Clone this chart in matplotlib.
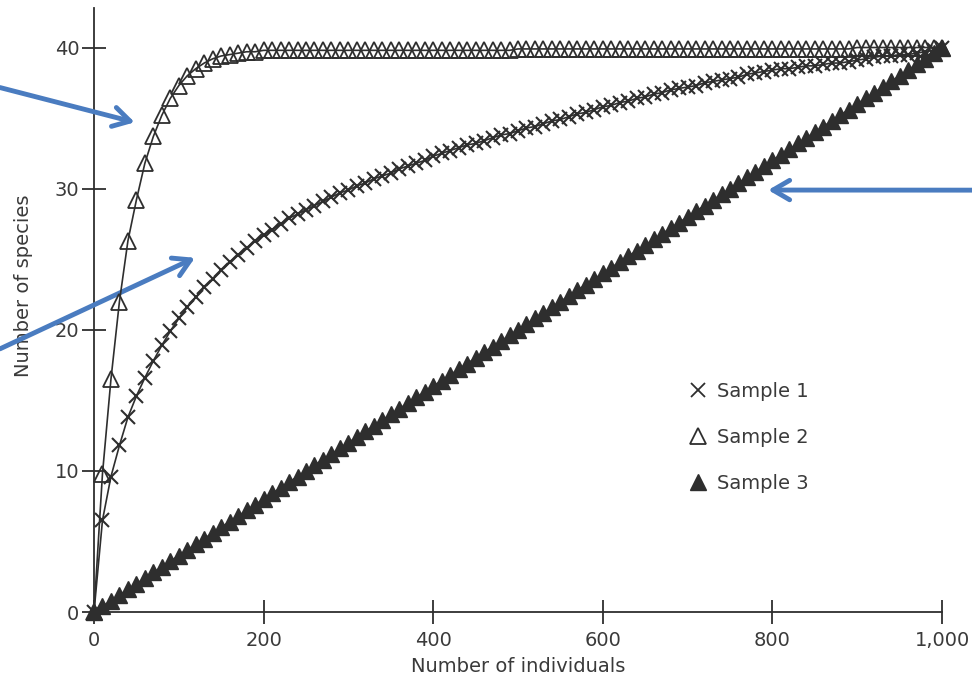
import matplotlib
matplotlib.use("Agg")
import matplotlib.pyplot as plt
from matplotlib.lines import Line2D

# number of individuals sampled (every 10)
individuals = list(range(0, 1001, 10))

sample1 = [0, 6.5, 9.6, 11.8, 13.8, 15.3, 16.6, 17.8, 18.9, 19.9,
           20.8, 21.6, 22.3, 23.0, 23.6, 24.2, 24.8, 25.3, 25.8, 26.3,
           26.7, 27.1, 27.5, 27.9, 28.2, 28.5, 28.8, 29.1, 29.4, 29.7,
           29.9, 30.2, 30.4, 30.7, 30.9, 31.1, 31.4, 31.6, 31.8, 32.0,
           32.3, 32.5, 32.7, 32.9, 33.1, 33.2, 33.4, 33.6, 33.8, 33.9,
           34.1, 34.3, 34.4, 34.6, 34.8, 34.9, 35.1, 35.3, 35.4, 35.6,
           35.8, 35.9, 36.1, 36.2, 36.4, 36.5, 36.7, 36.8, 37.0, 37.1,
           37.2, 37.3, 37.5, 37.6, 37.7, 37.8, 37.9, 38.1, 38.2, 38.3,
           38.4, 38.5, 38.5, 38.6, 38.7, 38.7, 38.8, 38.9, 38.9, 39.0,
           39.1, 39.2, 39.3, 39.4, 39.4, 39.5, 39.5, 39.6, 39.7, 39.8,
           40.0]

sample2 = [0, 9.8, 16.5, 22.0, 26.3, 29.2, 31.8, 33.7, 35.2, 36.4,
           37.3, 38.0, 38.5, 38.9, 39.2, 39.4, 39.5, 39.6, 39.7, 39.7,
           39.8, 39.8, 39.8, 39.8, 39.8, 39.8, 39.8, 39.8, 39.8, 39.8,
           39.8, 39.8, 39.8, 39.8, 39.8, 39.8, 39.8, 39.8, 39.8, 39.8,
           39.8, 39.8, 39.8, 39.8, 39.8, 39.8, 39.8, 39.8, 39.8, 39.8,
           39.9, 39.9, 39.9, 39.9, 39.9, 39.9, 39.9, 39.9, 39.9, 39.9,
           39.9, 39.9, 39.9, 39.9, 39.9, 39.9, 39.9, 39.9, 39.9, 39.9,
           39.9, 39.9, 39.9, 39.9, 39.9, 39.9, 39.9, 39.9, 39.9, 39.9,
           39.9, 39.9, 39.9, 39.9, 39.9, 39.9, 39.9, 39.9, 39.9, 39.9,
           40.0, 40.0, 40.0, 40.0, 40.0, 40.0, 40.0, 40.0, 40.0, 40.0,
           40.0]

sample3 = [0, 0.4, 0.8, 1.2, 1.6, 2.0, 2.4, 2.8, 3.2, 3.6,
           4.0, 4.4, 4.8, 5.2, 5.6, 6.0, 6.4, 6.8, 7.2, 7.6,
           8.0, 8.4, 8.8, 9.2, 9.6, 10.0, 10.4, 10.8, 11.2, 11.6,
           12.0, 12.4, 12.8, 13.2, 13.6, 14.0, 14.4, 14.8, 15.2, 15.6,
           16.0, 16.4, 16.8, 17.2, 17.6, 18.0, 18.4, 18.8, 19.2, 19.6,
           20.0, 20.4, 20.8, 21.2, 21.6, 22.0, 22.4, 22.8, 23.2, 23.6,
           24.0, 24.4, 24.8, 25.2, 25.6, 26.0, 26.4, 26.8, 27.2, 27.6,
           28.0, 28.4, 28.8, 29.2, 29.6, 30.0, 30.4, 30.8, 31.2, 31.6,
           32.0, 32.4, 32.8, 33.2, 33.6, 34.0, 34.4, 34.8, 35.2, 35.6,
           36.0, 36.4, 36.8, 37.2, 37.6, 38.0, 38.4, 38.8, 39.2, 39.6,
           40.0]

x_ticks = [0, 200, 400, 600, 800, 1000]
x_ticklabels = ["0", "200", "400", "600", "800", "1,000"]
y_ticks = [0, 10, 20, 30, 40]
labels = ["Sample 1", "Sample 2", "Sample 3"]

ink = "#2e2e2e"
txt = "#3a3a3a"
blue = "#4a7cc0"

plt.rcParams["font.family"] = ["DejaVu Sans"]

fig = plt.figure(figsize=(9.72, 6.84), dpi=100)
ax = fig.add_axes([94 / 972, 72 / 684, 848 / 972, 604 / 684])

ax.plot(individuals, sample3, color=ink, lw=1.2, marker="^", ms=11,
        mfc=ink, mec=ink, clip_on=False, zorder=3)
ax.plot(individuals, sample1, color=ink, lw=1.2, marker="x", ms=10,
        mew=1.5, clip_on=False, zorder=4)
ax.plot(individuals, sample2, color=ink, lw=1.2, marker="^", ms=11,
        mfc="none", mec=ink, mew=1.3, clip_on=False, zorder=5)

ax.set_xlim(0, 1000)
ax.set_ylim(0, 42.8)
ax.spines["top"].set_visible(False)
ax.spines["right"].set_visible(False)
for s in ["left", "bottom"]:
    ax.spines[s].set_color(ink)
    ax.spines[s].set_linewidth(1.3)

ax.set_xticks(x_ticks)
ax.set_xticklabels(x_ticklabels)
ax.set_yticks(y_ticks)
ax.tick_params(direction="inout", length=17, width=1.3, color=ink,
               labelsize=14, labelcolor=txt)
ax.tick_params(axis="x", pad=5)
ax.tick_params(axis="y", pad=2)

ax.set_xlabel("Number of individuals", fontsize=14, color=txt, labelpad=5)
ax.set_ylabel("Number of species", fontsize=14, color=txt)
ax.yaxis.set_label_coords(-0.072, 0.54)

# legend with markers only
handles = [Line2D([], [], ls="none", marker="x", ms=10, mew=1.3, color=ink),
           Line2D([], [], ls="none", marker="^", ms=11, mfc="none", mec=ink, mew=1.3),
           Line2D([], [], ls="none", marker="^", ms=11, color=ink)]
leg = fig.legend(handles, labels,
                 loc="upper left", bbox_to_anchor=(680 / 972, 1 - 372 / 684),
                 frameon=False, fontsize=14, labelspacing=1.4,
                 handlelength=0.9, handletextpad=0.5, borderpad=0)
for t in leg.get_texts():
    t.set_color(txt)

# blue arrows added on top of the figure
arrow = dict(arrowstyle="->,head_length=0.6,head_width=0.35", color=blue,
             lw=3.5, mutation_scale=20, shrinkA=0, shrinkB=0)
ax.annotate("", xy=(48, 34.7), xycoords="data",
            xytext=(0.0, 0.872), textcoords="figure fraction", arrowprops=arrow)
ax.annotate("", xy=(119, 25.1), xycoords="data",
            xytext=(0.0, 0.49), textcoords="figure fraction", arrowprops=arrow)
ax.annotate("", xy=(795, 29.9), xycoords="data",
            xytext=(1.0, 0.722), textcoords="figure fraction", arrowprops=arrow)

fig.savefig("out.png", dpi=100)
